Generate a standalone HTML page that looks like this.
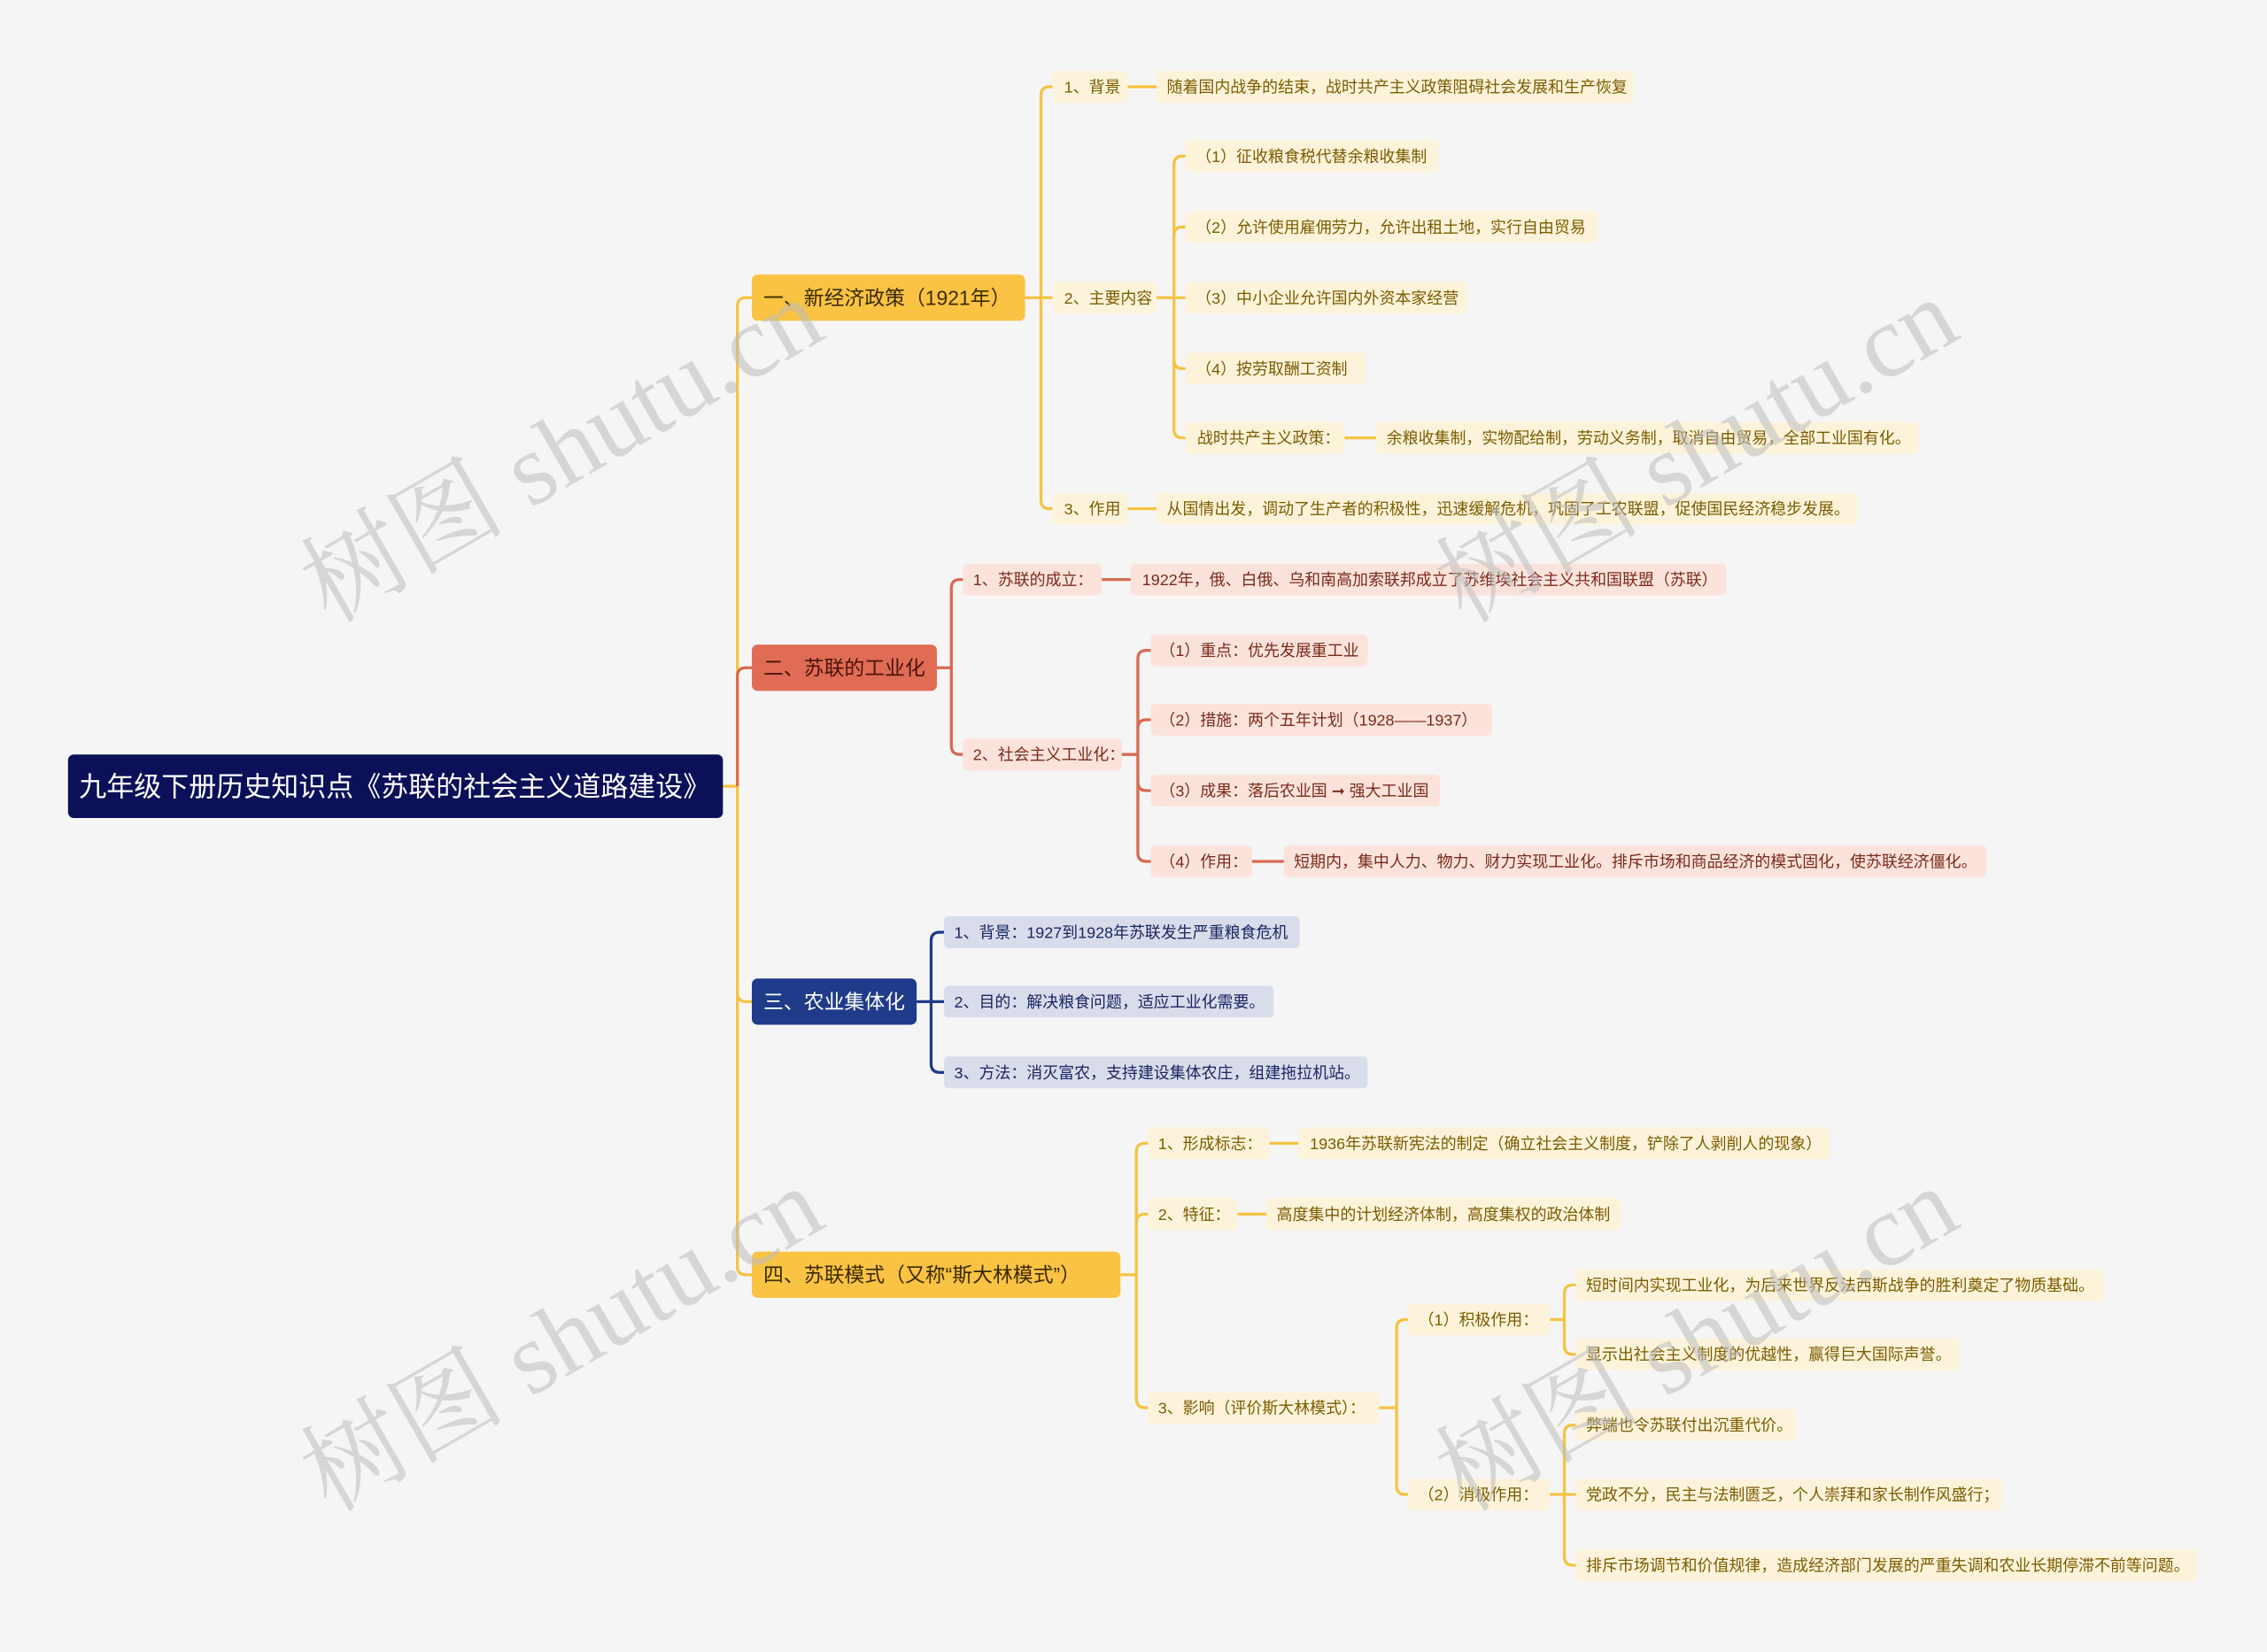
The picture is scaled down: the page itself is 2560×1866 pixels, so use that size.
<!DOCTYPE html>
<html><head><meta charset="utf-8">
<style>
html,body{margin:0;padding:0;background:#f5f5f5;}
svg{display:block;}
text{font-family:"Liberation Sans","Noto Sans CJK SC",sans-serif;}
.y rect{fill:#fdf3da;} .y text{fill:#7a5c00;font-size:11px;}
.r rect{fill:#fbe3dc;} .r text{fill:#7a2a1a;font-size:11px;}
.b rect{fill:#d9ddeb;} .b text{fill:#1a2560;font-size:11px;}
.ly{stroke:#f5c342;stroke-width:2;fill:none;}
.lr{stroke:#d9694f;stroke-width:2;fill:none;}
.lb{stroke:#1f3b8a;stroke-width:2;fill:none;}
.wm{fill:#bdbdbd;opacity:.55;font-family:"Liberation Serif","Noto Serif CJK SC",serif;font-size:71px;}
</style></head><body>
<svg width="2560" height="1866" viewBox="0 0 1568 1143" xmlns="http://www.w3.org/2000/svg">
<rect width="1568" height="1143" fill="#f5f5f5"/>

<path class="ly" d="M500,544 H510 M510,544 V212 Q510,206 516,206 H520 M510,544 V876 Q510,882 516,882 H520 M510,544 V687 Q510,693 516,693 H520"/>
<path class="lr" d="M510,544 V468 Q510,462 516,462 H520"/>
<path class="ly" d="M709,206 H728 M720,206 V66 Q720,60 726,60 H728 M720,206 V346 Q720,352 726,352 H728
M780,60 H800 M780,352 H800
M800,206 H820 M812,206 V114 Q812,108 818,108 H820 M812,206 V163 Q812,157 818,157 H820 M812,206 V249 Q812,255 818,255 H820 M812,206 V297 Q812,303 818,303 H820
M930,303 H952"/>
<path class="lr" d="M648,462 H658 M658,462 V407 Q658,401 664,401 H666 M658,462 V516 Q658,522 664,522 H666
M762,401 H782
M776,522 H787 M787,522 V456 Q787,450 793,450 H796 M787,522 V504 Q787,498 793,498 H796 M787,522 V541 Q787,547 793,547 H796 M787,522 V590 Q787,596 793,596 H796
M866,596 H888"/>
<path class="lb" d="M634,693 H653 M644,693 V651 Q644,645 650,645 H653 M644,693 V736 Q644,742 650,742 H653"/>
<path class="ly" d="M775,882 H786 M786,882 V797 Q786,791 792,791 H794 M786,882 V846 Q786,840 792,840 H794 M786,882 V968 Q786,974 792,974 H794
M878,791 H898 M856,840 H876
M954,974 H966 M966,974 V919 Q966,913 972,913 H974 M966,974 V1028 Q966,1034 972,1034 H974
M1072,913 H1082 M1082,913 V895 Q1082,889 1088,889 H1090 M1082,913 V931 Q1082,937 1088,937 H1090
M1072,1034 H1090 M1082,1034 V992 Q1082,986 1088,986 H1090 M1082,1034 V1077 Q1082,1083 1088,1083 H1090"/>

<rect x="47" y="522" width="453" height="44" rx="4" fill="#0b1058"/>
<text x="273" y="551" text-anchor="middle" fill="#fff" font-size="19">九年级下册历史知识点《苏联的社会主义道路建设》</text>

<rect x="520" y="190" width="189" height="32" rx="4" fill="#fbc343"/>
<text x="528" y="211" fill="#3a2a00" font-size="14">一、新经济政策（1921年）</text>
<rect x="520" y="446" width="128" height="32" rx="4" fill="#e06c55"/>
<text x="528" y="467" fill="#4a1208" font-size="14">二、苏联的工业化</text>
<rect x="520" y="677" width="114" height="32" rx="4" fill="#1f3b8a"/>
<text x="528" y="698" fill="#fff" font-size="14">三、农业集体化</text>
<rect x="520" y="866" width="255" height="32" rx="4" fill="#fbc343"/>
<text x="528" y="887" fill="#3a2a00" font-size="14">四、苏联模式（又称“斯大林模式”）</text>

<g class="y">
<rect x="728" y="49" width="52" height="22" rx="3"/><text x="736" y="64">1、背景</text>
<rect x="800" y="49" width="330" height="22" rx="3"/><text x="807" y="64">随着国内战争的结束，战时共产主义政策阻碍社会发展和生产恢复</text>
<rect x="728" y="195" width="72" height="22" rx="3"/><text x="736" y="210">2、主要内容</text>
<rect x="820" y="97" width="175" height="22" rx="3"/><text x="827" y="112">（1）征收粮食税代替余粮收集制</text>
<rect x="820" y="146" width="285" height="22" rx="3"/><text x="827" y="161">（2）允许使用雇佣劳力，允许出租土地，实行自由贸易</text>
<rect x="820" y="195" width="195" height="22" rx="3"/><text x="827" y="210">（3）中小企业允许国内外资本家经营</text>
<rect x="820" y="244" width="125" height="22" rx="3"/><text x="827" y="259">（4）按劳取酬工资制</text>
<rect x="820" y="292" width="110" height="22" rx="3"/><text x="828" y="307">战时共产主义政策：</text>
<rect x="952" y="292" width="375" height="22" rx="3"/><text x="959" y="307">余粮收集制，实物配给制，劳动义务制，取消自由贸易，全部工业国有化。</text>
<rect x="728" y="341" width="52" height="22" rx="3"/><text x="736" y="356">3、作用</text>
<rect x="800" y="341" width="485" height="22" rx="3"/><text x="807" y="356">从国情出发，调动了生产者的积极性，迅速缓解危机，巩固了工农联盟，促使国民经济稳步发展。</text>
</g>

<g class="r">
<rect x="666" y="390" width="96" height="22" rx="3"/><text x="673" y="405">1、苏联的成立：</text>
<rect x="782" y="390" width="412" height="22" rx="3"/><text x="790" y="405">1922年，俄、白俄、乌和南高加索联邦成立了苏维埃社会主义共和国联盟（苏联）</text>
<rect x="666" y="511" width="110" height="22" rx="3"/><text x="673" y="526">2、社会主义工业化：</text>
<rect x="796" y="439" width="150" height="22" rx="3"/><text x="802" y="454">（1）重点：优先发展重工业</text>
<rect x="796" y="487" width="236" height="22" rx="3"/><text x="802" y="502">（2）措施：两个五年计划（1928——1937）</text>
<rect x="796" y="536" width="200" height="22" rx="3"/><text x="802" y="551">（3）成果：落后农业国 ➞ 强大工业国</text>
<rect x="796" y="585" width="70" height="22" rx="3"/><text x="802" y="600">（4）作用：</text>
<rect x="888" y="585" width="486" height="22" rx="3"/><text x="895" y="600">短期内，集中人力、物力、财力实现工业化。排斥市场和商品经济的模式固化，使苏联经济僵化。</text>
</g>

<g class="b">
<rect x="653" y="634" width="246" height="22" rx="3"/><text x="660" y="649">1、背景：1927到1928年苏联发生严重粮食危机</text>
<rect x="653" y="682" width="228" height="22" rx="3"/><text x="660" y="697">2、目的：解决粮食问题，适应工业化需要。</text>
<rect x="653" y="731" width="293" height="22" rx="3"/><text x="660" y="746">3、方法：消灭富农，支持建设集体农庄，组建拖拉机站。</text>
</g>

<g class="y">
<rect x="794" y="780" width="84" height="22" rx="3"/><text x="801" y="795">1、形成标志：</text>
<rect x="898" y="780" width="368" height="22" rx="3"/><text x="906" y="795">1936年苏联新宪法的制定（确立社会主义制度，铲除了人剥削人的现象）</text>
<rect x="794" y="829" width="62" height="22" rx="3"/><text x="801" y="844">2、特征：</text>
<rect x="876" y="829" width="245" height="22" rx="3"/><text x="883" y="844">高度集中的计划经济体制，高度集权的政治体制</text>
<rect x="794" y="963" width="160" height="22" rx="3"/><text x="801" y="978">3、影响（评价斯大林模式）：</text>
<rect x="974" y="902" width="98" height="22" rx="3"/><text x="981" y="917">（1）积极作用：</text>
<rect x="974" y="1023" width="98" height="22" rx="3"/><text x="981" y="1038">（2）消极作用：</text>
<rect x="1090" y="878" width="365" height="22" rx="3"/><text x="1097" y="893">短时间内实现工业化，为后来世界反法西斯战争的胜利奠定了物质基础。</text>
<rect x="1090" y="926" width="265" height="22" rx="3"/><text x="1097" y="941">显示出社会主义制度的优越性，赢得巨大国际声誉。</text>
<rect x="1090" y="975" width="152" height="22" rx="3"/><text x="1097" y="990">弊端也令苏联付出沉重代价。</text>
<rect x="1090" y="1023" width="295" height="22" rx="3"/><text x="1097" y="1038">党政不分，民主与法制匮乏，个人崇拜和家长制作风盛行；</text>
<rect x="1090" y="1072" width="430" height="22" rx="3"/><text x="1097" y="1087">排斥市场调节和价值规律，造成经济部门发展的严重失调和农业长期停滞不前等问题。</text>
</g>

<text class="wm" transform="translate(228,432) rotate(-30)">树图 shutu.cn</text>
<text class="wm" transform="translate(1013,432) rotate(-30)">树图 shutu.cn</text>
<text class="wm" transform="translate(228,1047) rotate(-30)">树图 shutu.cn</text>
<text class="wm" transform="translate(1013,1047) rotate(-30)">树图 shutu.cn</text>
</svg>
</body></html>
